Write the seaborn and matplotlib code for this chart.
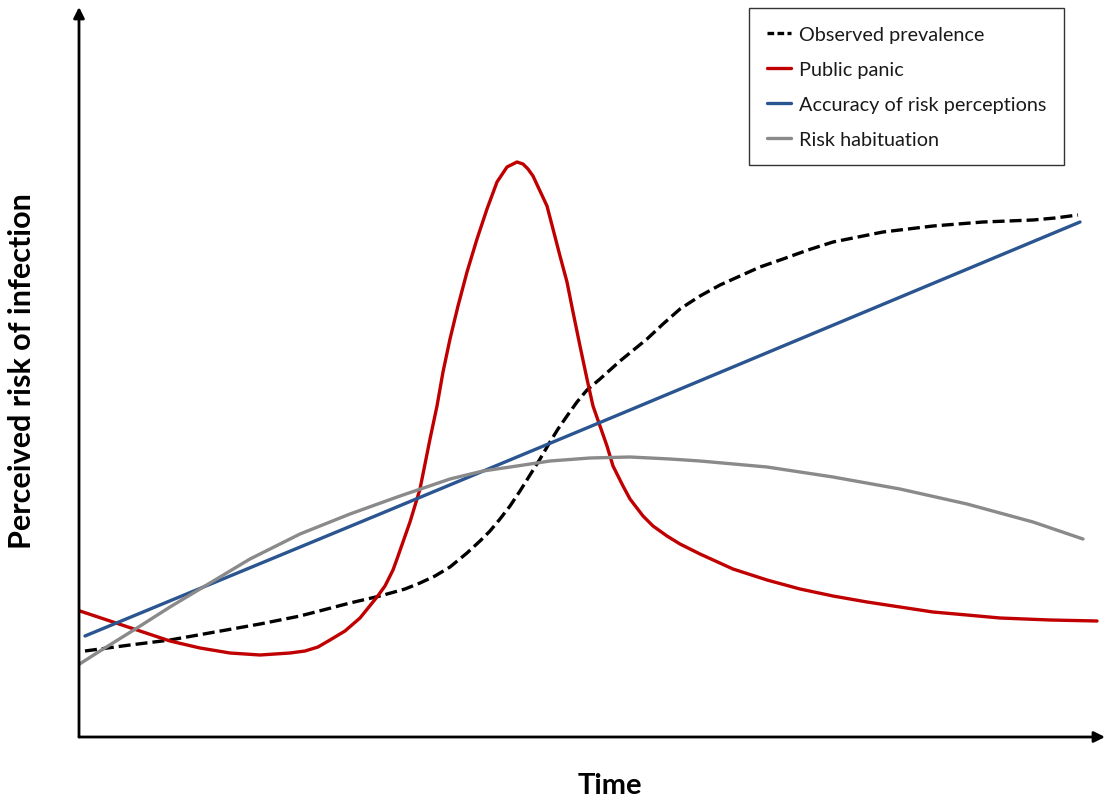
import matplotlib
matplotlib.use("Agg")
import matplotlib.pyplot as plt
import seaborn as sns
import pandas as pd
from matplotlib.lines import Line2D

# ---- data (time units / risk units) ----
prev_t = [6, 51, 91, 136, 181, 221, 248, 271, 301, 326, 341, 356, 371, 388, 401, 411, 421, 431,
          441, 451, 461, 471, 479, 488, 498, 508, 521, 541, 568, 584, 601, 621, 641, 661, 681,
          704, 729, 754, 779, 804, 829, 854, 879, 904, 929, 954, 976, 999]
prev_r = [86, 92, 97, 105, 113, 121, 128, 134, 141, 148, 154, 161, 170, 184, 196, 206, 218, 231,
          246, 262, 278, 295, 308, 321, 335, 347, 358, 376, 398, 413, 428, 441, 452, 461, 470,
          478, 487, 495, 500, 505, 508, 511, 513, 515, 516, 517, 519, 522]

panic_t = [1, 34, 61, 91, 121, 151, 181, 211, 226, 239, 251, 266, 281, 298, 306, 314, 318, 331,
           341, 351, 358, 364, 371, 379, 388, 398, 408, 418, 428, 438, 444, 449, 454, 468, 474,
           481, 488, 494, 501, 508, 514, 521, 528, 534, 544, 551, 564, 574, 588, 601, 621, 654,
           688, 721, 754, 788, 821, 854, 888, 921, 971, 1018]
panic_r = [126, 115, 106, 96, 89, 84, 82, 84, 86, 90, 97, 106, 119, 140, 151, 167, 178, 215,
           248, 298, 331, 365, 398, 431, 465, 498, 528, 555, 570, 575, 573, 568, 561, 531, 508,
           481, 455, 425, 391, 358, 331, 311, 291, 271, 251, 238, 221, 211, 201, 193, 183, 168,
           157, 148, 141, 135, 130, 125, 122, 119, 117, 116]

acc_t = [6, 301, 551, 1001]
acc_r = [101, 223, 327, 515]

hab_t = [-1, 21, 58, 91, 121, 171, 221, 271, 321, 371, 404, 438, 471, 511, 551, 591, 621, 688,
         754, 821, 888, 954, 1004]
hab_r = [72, 86, 109, 130, 148, 178, 203, 223, 241, 258, 266, 271, 276, 279, 280, 278, 276, 270,
         260, 248, 233, 215, 198]

labels = ["Observed prevalence", "Public panic", "Accuracy of risk perceptions", "Risk habituation"]
colors = ["#000000", "#C00000", "#2A5591", "#8A8A8A"]

frames = []
for lab, t, r in zip(labels, [prev_t, panic_t, acc_t, hab_t], [prev_r, panic_r, acc_r, hab_r]):
    frames.append(pd.DataFrame({"time": t, "risk": r, "series": lab}))
df = pd.concat(frames, ignore_index=True)

sns.set_theme(style="white")
plt.rcParams["font.family"] = ["Lato", "DejaVu Sans"]
plt.rcParams["text.color"] = "black"

fig = plt.figure(figsize=(11.07, 8.03), dpi=100)
W, H = 1107, 803
ax = fig.add_axes([79 / W, 65 / H, (1105 - 79) / W, (738 - 8) / H])

palette = dict(zip(labels, colors))
dashes = {labels[0]: (3.6, 1.5), labels[1]: "", labels[2]: "", labels[3]: ""}
sns.lineplot(data=df, x="time", y="risk", hue="series", style="series", palette=palette,
             dashes=dashes, sort=False, estimator=None, legend=False, linewidth=2.4, ax=ax,
             solid_joinstyle="round", dash_joinstyle="round")

ax.set_xlim(0, 1026)
ax.set_ylim(0, 730)
ax.set_xticks([])
ax.set_yticks([])
for s in ax.spines.values():
    s.set_visible(False)
ax.set_xlabel("")
ax.set_ylabel("")

# axis arrows
arrow = dict(arrowstyle="-|>", lw=2.0, color="black", mutation_scale=16, shrinkA=0, shrinkB=0)
ax.annotate("", xy=(0, 1.0), xytext=(0, 0), xycoords="axes fraction", arrowprops=arrow,
            annotation_clip=False)
ax.annotate("", xy=(1.0, 0), xytext=(0, 0), xycoords="axes fraction", arrowprops=arrow,
            annotation_clip=False)

# legend
handles = []
for lab, col in zip(labels, colors):
    ls = (0, (2.0, 1.0)) if lab == labels[0] else "-"
    handles.append(Line2D([0], [0], color=col, lw=2.4, linestyle=ls))
leg = fig.legend(handles, labels, loc="upper left", bbox_to_anchor=(749 / W, 1 - 9 / H),
                 bbox_transform=fig.transFigure, fontsize=14.3, frameon=True, fancybox=False,
                 handlelength=1.2, handletextpad=0.4, labelspacing=0.9, borderpad=0.9,
                 borderaxespad=0)
leg.get_frame().set_edgecolor("black")
leg.get_frame().set_linewidth(1.0)
for t in leg.get_texts():
    t.set_color("#1a1a1a")

fig.text(22 / W, 1 - 371 / H, "Perceived risk of infection", rotation=90, ha="center",
         va="center", fontsize=22, fontweight="bold", color="black")
fig.text(610 / W, 1 - 786 / H, "Time", ha="center", va="center", fontsize=21,
         fontweight="bold", color="black")

fig.savefig("out.png", dpi=100, facecolor="white")
